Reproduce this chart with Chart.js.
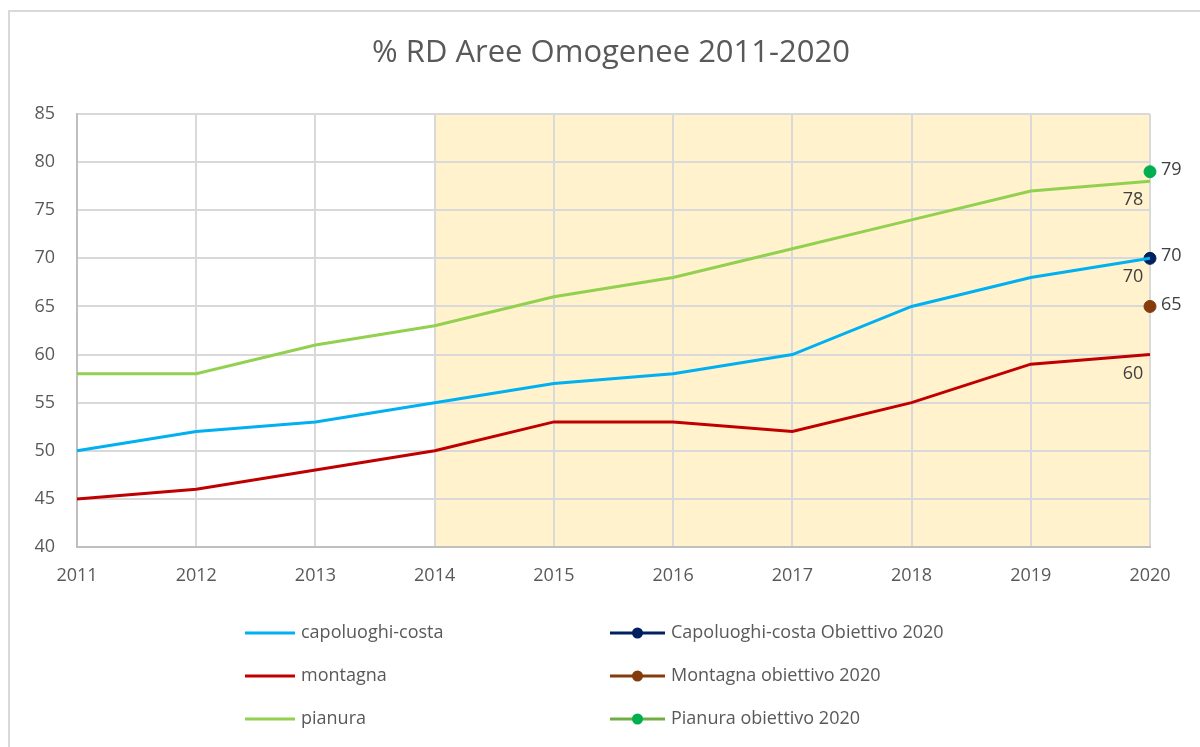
<!DOCTYPE html>
<html>
<head>
<meta charset="utf-8">
<script src="https://cdn.jsdelivr.net/npm/chart.js@4"></script>
<style>
    html, body { margin: 0; padding: 0; background: #fff; overflow: hidden; }
    #wrap { position: absolute; left: 0; top: 0; width: 1200px; height: 747px; }
    #frame { position: absolute; left: 8px; top: 10px; width: 1300px; height: 800px;
             border-top: 2px solid #d9d9d9; border-left: 2px solid #d9d9d9; }
</style>
</head>
<body>
<div id="wrap">
    <div id="frame"></div>
    <canvas id="rdChart" width="1200" height="747"></canvas>
</div>
<script>
// % raccolta differenziata per area omogenea
const years = ['2011', '2012', '2013', '2014', '2015', '2016', '2017', '2018', '2019', '2020'];
const capoluoghiCosta = [50, 52, 53, 55, 57, 58, 60, 65, 68, 70];
const montagna = [45, 46, 48, 50, 53, 53, 52, 55, 59, 60];
const pianura = [58, 58, 61, 63, 66, 68, 71, 74, 77, 78];

// obiettivi 2020
const targetYear = '2020';
const targetCapoluoghi = 70;
const targetMontagna = 65;
const targetPianura = 79;

// periodo evidenziato
const shadeFrom = '2014';
const shadeTo = '2020';

const yTicks = { min: 40, max: 85, step: 5 };

const chartTitle = '% RD Aree Omogenee 2011-2020';

const FONT = '"Open Sans", sans-serif';
const TEXT_COLOR = '#595959';

const targetSeries = v => years.map(y => (y === targetYear ? v : null));

// Banda gialla sotto la griglia
const shadePlugin = {
    id: 'shade',
    beforeDraw(chart) {
        const { ctx, chartArea, scales } = chart;
        const x0 = scales.x.getPixelForValue(years.indexOf(shadeFrom));
        const x1 = scales.x.getPixelForValue(years.indexOf(shadeTo));
        ctx.save();
        ctx.fillStyle = '#fff2cc';
        ctx.fillRect(x0, chartArea.top, x1 - x0, chartArea.bottom - chartArea.top);
        ctx.restore();
    }
};

// Titolo centrato sul riquadro esterno
const titlePlugin = {
    id: 'frameTitle',
    afterDraw(chart) {
        const { ctx } = chart;
        ctx.save();
        ctx.font = '31px ' + FONT;
        ctx.fillStyle = TEXT_COLOR;
        ctx.textAlign = 'center';
        ctx.textBaseline = 'middle';
        ctx.fillText(chartTitle, 611, 53);
        ctx.restore();
    }
};

// Etichette sull'ultimo anno
const endLabelsPlugin = {
    id: 'endLabels',
    afterDatasetsDraw(chart) {
        const { ctx } = chart;
        ctx.save();
        ctx.font = '18px ' + FONT;
        ctx.fillStyle = '#404040';
        ctx.textBaseline = 'middle';
        chart.data.datasets.forEach((ds, i) => {
            const meta = chart.getDatasetMeta(i);
            const idx = ds.data.length - 1;
            const pt = meta.data[idx];
            const v = ds.data[idx];
            if (v == null || !pt) return;
            if (ds.isTarget) {
                ctx.textAlign = 'left';
                ctx.fillText(String(v), pt.x + 11, pt.y - 2);
            } else {
                ctx.textAlign = 'center';
                ctx.fillText(String(v), pt.x - 17, pt.y + 19);
            }
        });
        ctx.restore();
    }
};

// Legenda su due colonne
const legendPlugin = {
    id: 'twoColLegend',
    afterDraw(chart) {
        const { ctx } = chart;
        const cols = [245, 610];
        const rows = [633, 676, 719];
        ctx.save();
        ctx.font = '18px ' + FONT;
        ctx.textBaseline = 'middle';
        ctx.textAlign = 'left';
        chart.data.datasets.forEach((ds, i) => {
            const col = ds.isTarget ? 1 : 0;
            const row = Math.floor(i / 2);
            const x = cols[col];
            const y = rows[row];
            const len = col ? 55 : 50;
            ctx.strokeStyle = ds.legendLine || ds.borderColor;
            ctx.lineWidth = 3;
            ctx.beginPath();
            ctx.moveTo(x, y);
            ctx.lineTo(x + len, y);
            ctx.stroke();
            if (ds.isTarget) {
                ctx.fillStyle = ds.pointBackgroundColor;
                ctx.beginPath();
                ctx.arc(x + len / 2, y, 5.5, 0, Math.PI * 2);
                ctx.fill();
            }
            ctx.fillStyle = TEXT_COLOR;
            ctx.fillText(ds.label, x + len + 6, y);
        });
        ctx.restore();
    }
};

const lineSet = (label, data, color) => ({
    label, data,
    borderColor: color,
    backgroundColor: color,
    borderWidth: 3,
    pointRadius: 0,
    tension: 0
});

const targetSet = (label, value, color, legendLine) => ({
    label,
    data: targetSeries(value),
    isTarget: true,
    legendLine,
    borderColor: color,
    backgroundColor: color,
    pointBackgroundColor: color,
    pointBorderColor: color,
    pointRadius: 6,
    showLine: false
});

new Chart(document.getElementById('rdChart'), {
    type: 'line',
    data: {
        labels: years,
        datasets: [
            lineSet('capoluoghi-costa', capoluoghiCosta, '#00b0f0'),
            targetSet('Capoluoghi-costa Obiettivo 2020', targetCapoluoghi, '#002060', '#002060'),
            lineSet('montagna', montagna, '#c00000'),
            targetSet('Montagna obiettivo 2020', targetMontagna, '#843c0c', '#843c0c'),
            lineSet('pianura', pianura, '#92d050'),
            targetSet('Pianura obiettivo 2020', targetPianura, '#00b050', '#70ad47')
        ]
    },
    options: {
        responsive: false,
        animation: false,
        layout: { padding: { left: 10, right: 50, top: 114, bottom: 0 } },
        plugins: {
            legend: { display: false },
            tooltip: { enabled: false },
            title: { display: false }
        },
        scales: {
            x: {
                grid: { color: '#d9d9d9', lineWidth: 2, drawTicks: false },
                border: { color: '#bfbfbf', width: 2 },
                ticks: { color: TEXT_COLOR, font: { family: FONT, size: 18 }, padding: 18, maxRotation: 0 },
                afterFit(scale) { scale.height = 200; }
            },
            y: {
                min: yTicks.min,
                max: yTicks.max,
                grid: { color: '#d9d9d9', lineWidth: 2, drawTicks: false },
                border: { color: '#bfbfbf', width: 2 },
                ticks: { stepSize: yTicks.step, color: TEXT_COLOR, font: { family: FONT, size: 18 }, padding: 22 },
                afterFit(scale) { scale.width = 67; }
            }
        }
    },
    plugins: [shadePlugin, titlePlugin, endLabelsPlugin, legendPlugin]
});
</script>
</body>
</html>
